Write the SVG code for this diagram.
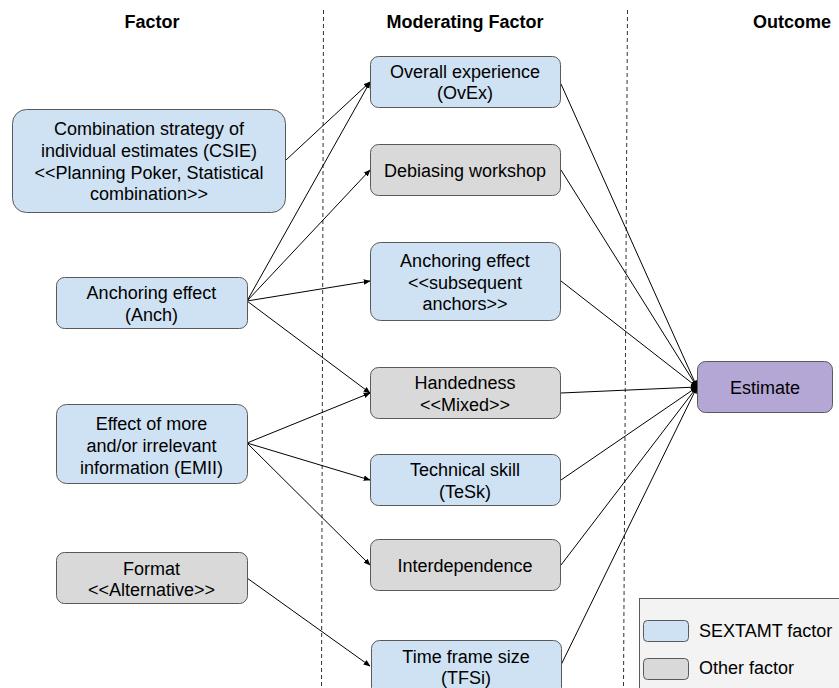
<svg xmlns="http://www.w3.org/2000/svg" width="839" height="688" viewBox="0 0 839 688">
<style>
text{font-family:"Liberation Sans",Arial,sans-serif;font-size:18px;fill:#000;text-anchor:middle}
.h{font-weight:bold}
.sx{fill:#cfe2f3;stroke:#595959;stroke-width:1}
.ot{fill:#d9d9d9;stroke:#595959;stroke-width:1}
.est{fill:#b4a7d6;stroke:#595959;stroke-width:1}
.c{stroke:#000;stroke-width:1;fill:none;marker-end:url(#a)}
.d{stroke:#333;stroke-width:1;stroke-dasharray:4 3;fill:none}
</style>
<defs>
<marker id="a" viewBox="0 0 10 10" refX="9" refY="5" markerWidth="7" markerHeight="7" orient="auto" markerUnits="userSpaceOnUse">
<path d="M0,1 L10,5 L0,9 z" fill="#000"/>
</marker>
</defs>
<rect width="839" height="688" fill="#fff"/>
<g id="headers">
<text class="h" x="152" y="28">Factor</text>
<text class="h" x="465" y="28">Moderating Factor</text>
<text class="h" x="792" y="28">Outcome</text>
</g>
<g id="dividers">
<line class="d" x1="323.5" y1="10" x2="321.5" y2="688"/>
<line class="d" x1="627.5" y1="10" x2="623.5" y2="688"/>
</g>
<g id="connectors">
<line class="c" x1="286" y1="160" x2="370" y2="82"/>
<line class="c" x1="247" y1="301" x2="370" y2="82"/>
<line class="c" x1="247" y1="301" x2="370" y2="170"/>
<line class="c" x1="247" y1="301" x2="370" y2="281"/>
<line class="c" x1="247" y1="301" x2="370" y2="393"/>
<line class="c" x1="247" y1="443" x2="370" y2="393"/>
<line class="c" x1="247" y1="443" x2="370" y2="480"/>
<line class="c" x1="247" y1="443" x2="370" y2="565"/>
<line class="c" x1="247" y1="578" x2="370" y2="666"/>
<line class="c" x1="561" y1="84" x2="697" y2="387"/>
<line class="c" x1="561" y1="170" x2="697" y2="387"/>
<line class="c" x1="561" y1="281" x2="697" y2="387"/>
<line class="c" x1="561" y1="393" x2="697" y2="387"/>
<line class="c" x1="561" y1="480" x2="697" y2="387"/>
<line class="c" x1="561" y1="565" x2="697" y2="387"/>
<line class="c" x1="561" y1="665" x2="697" y2="387"/>
</g>
<g id="csie">
<rect class="sx" x="12.5" y="109.5" width="273" height="103" rx="14"/>
<text x="149" y="135">Combination strategy of</text>
<text x="149" y="157">individual estimates (CSIE)</text>
<text x="149" y="179">&lt;&lt;Planning Poker, Statistical</text>
<text x="149" y="200">combination&gt;&gt;</text>
</g>
<g id="anch">
<rect class="sx" x="56.5" y="277.5" width="191" height="51" rx="8"/>
<text x="151.5" y="299">Anchoring effect</text>
<text x="151.5" y="321">(Anch)</text>
</g>
<g id="emii">
<rect class="sx" x="56.5" y="404.5" width="191" height="79" rx="10"/>
<text x="151.5" y="430">Effect of more</text>
<text x="151.5" y="452">and/or irrelevant</text>
<text x="151.5" y="474">information (EMII)</text>
</g>
<g id="format">
<rect class="ot" x="56.5" y="552.5" width="191" height="51" rx="8"/>
<text x="151.5" y="575">Format</text>
<text x="151.5" y="596">&lt;&lt;Alternative&gt;&gt;</text>
</g>
<g id="ovex">
<rect class="sx" x="370.5" y="56.5" width="190" height="51" rx="8"/>
<text x="465" y="78">Overall experience</text>
<text x="465" y="99">(OvEx)</text>
</g>
<g id="debiasing">
<rect class="ot" x="370.5" y="144.5" width="190" height="51" rx="8"/>
<text x="465" y="177">Debiasing workshop</text>
</g>
<g id="anchsub">
<rect class="sx" x="370.5" y="242.5" width="190" height="78" rx="10"/>
<text x="465" y="267">Anchoring effect</text>
<text x="465" y="289">&lt;&lt;subsequent</text>
<text x="465" y="310">anchors&gt;&gt;</text>
</g>
<g id="handedness">
<rect class="ot" x="370.5" y="367.5" width="190" height="51" rx="8"/>
<text x="465" y="389">Handedness</text>
<text x="465" y="411">&lt;&lt;Mixed&gt;&gt;</text>
</g>
<g id="tesk">
<rect class="sx" x="370.5" y="454.5" width="190" height="51" rx="8"/>
<text x="465" y="476">Technical skill</text>
<text x="465" y="498">(TeSk)</text>
</g>
<g id="interdependence">
<rect class="ot" x="370.5" y="539.5" width="190" height="51" rx="8"/>
<text x="465" y="572">Interdependence</text>
</g>
<g id="tfsi">
<rect class="sx" x="371.5" y="640.5" width="190" height="55" rx="8"/>
<text x="466" y="663">Time frame size</text>
<text x="466" y="684">(TFSi)</text>
</g>
<g id="estimate">
<rect class="est" x="697.5" y="361.5" width="135" height="51" rx="8"/>
<text x="765" y="394">Estimate</text>
</g>
<g id="legend">
<rect x="639.5" y="598.5" width="210" height="100" fill="#f3f3f3" stroke="#595959"/>
<rect class="sx" x="643.5" y="620.5" width="45" height="21" rx="4"/>
<text x="699" y="637" style="text-anchor:start">SEXTAMT factor</text>
<rect class="ot" x="643.5" y="658.5" width="45" height="21" rx="4"/>
<text x="699" y="674" style="text-anchor:start">Other factor</text>
</g>
</svg>
